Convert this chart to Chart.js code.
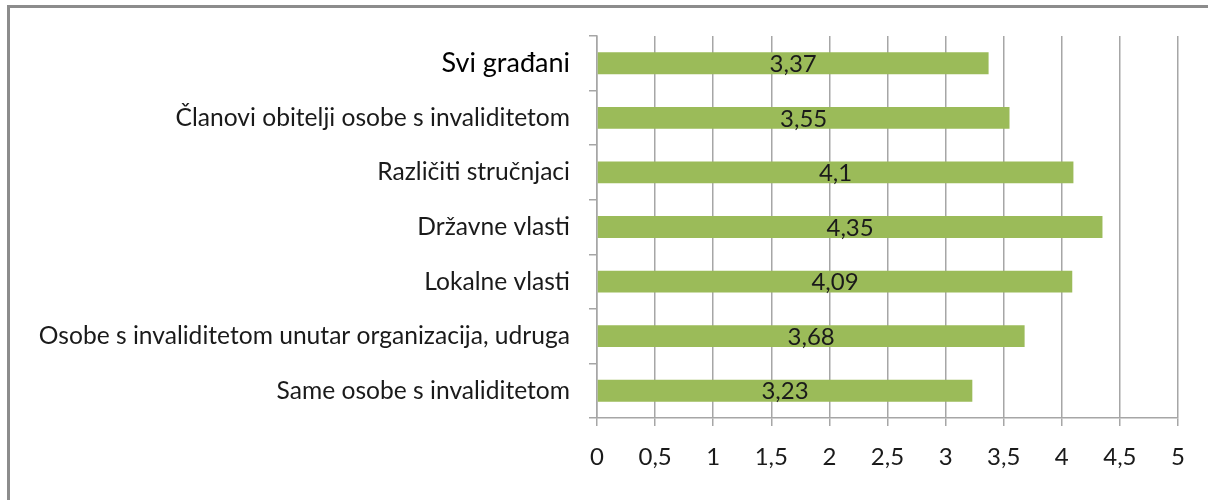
<!DOCTYPE html>
<html>
<head>
<meta charset="utf-8">
<script src="https://cdn.jsdelivr.net/npm/chart.js@4"></script>
<style>
  html, body { margin: 0; padding: 0; background: #fff; }
  #wrap { position: relative; width: 1208px; height: 500px; overflow: hidden; }
  #frame {
    position: absolute; left: 7px; top: 5px; width: 1220px; height: 520px;
    border: 3px solid #8c8c8c; box-sizing: border-box;
  }
  canvas { position: absolute; left: 0; top: 0; }
</style>
</head>
<body>
<div id="wrap">
  <div id="frame"></div>
  <canvas id="chart" width="1208" height="500"></canvas>
</div>
<script>
const categories = [
  "Svi građani",
  "Članovi obitelji osobe s invaliditetom",
  "Različiti stručnjaci",
  "Državne vlasti",
  "Lokalne vlasti",
  "Osobe s invaliditetom unutar organizacija, udruga",
  "Same osobe s invaliditetom"
];
const values = [3.37, 3.55, 4.1, 4.35, 4.09, 3.68, 3.23];
const xTicks = [0, 0.5, 1, 1.5, 2, 2.5, 3, 3.5, 4, 4.5, 5];

const FONT = "Lato, 'Open Sans', sans-serif";
const fmt = (v) => String(v).replace(".", ",");

// value labels in the middle of each bar
const barLabels = {
  id: "barLabels",
  afterDatasetsDraw(chart) {
    const ctx = chart.ctx;
    const meta = chart.getDatasetMeta(0);
    ctx.save();
    ctx.font = "24px " + FONT;
    ctx.fillStyle = "#1a1a1a";
    ctx.textAlign = "center";
    ctx.textBaseline = "middle";
    meta.data.forEach((bar, i) => {
      const x = (bar.base + bar.x) / 2;
      ctx.fillText(fmt(values[i]), x, bar.y + 1);
    });
    ctx.restore();
  }
};

new Chart(document.getElementById("chart"), {
  type: "bar",
  data: {
    labels: categories,
    datasets: [{
      data: values,
      backgroundColor: "#9bbb59",
      borderWidth: 0,
      barPercentage: 0.8,
      categoryPercentage: 0.5
    }]
  },
  options: {
    responsive: false,
    animation: false,
    indexAxis: "y",
    layout: { padding: { top: 36, right: 30, left: 0, bottom: 0 } },
    plugins: {
      legend: { display: false },
      tooltip: { enabled: false }
    },
    scales: {
      x: {
        min: 0,
        max: 5,
        afterBuildTicks: (scale) => { scale.ticks = xTicks.map((v) => ({ value: v })); },
        afterFit: (scale) => { scale.height = 82; },
        grid: {
          color: "#a6a6a6",
          lineWidth: 1.5,
          tickLength: 8
        },
        border: { color: "#a6a6a6", width: 1.5 },
        ticks: {
          padding: 17,
          color: "#1a1a1a",
          font: { family: FONT, size: 24 },
          callback: (v) => fmt(v)
        }
      },
      y: {
        afterFit: (scale) => { scale.width = 597; },
        grid: {
          offset: true,
          drawOnChartArea: false,
          color: "#a6a6a6",
          lineWidth: 1.5,
          tickLength: 8
        },
        border: { color: "#a6a6a6", width: 1.5 },
        ticks: {
          padding: 19,
          color: (c) => (c.index === 0 ? "#000" : "#1a1a1a"),
          font: (c) => (c.index === 0
            ? { family: FONT, size: 27 }
            : { family: FONT, size: 24.6 })
        }
      }
    }
  },
  plugins: [barLabels]
});
</script>
</body>
</html>
